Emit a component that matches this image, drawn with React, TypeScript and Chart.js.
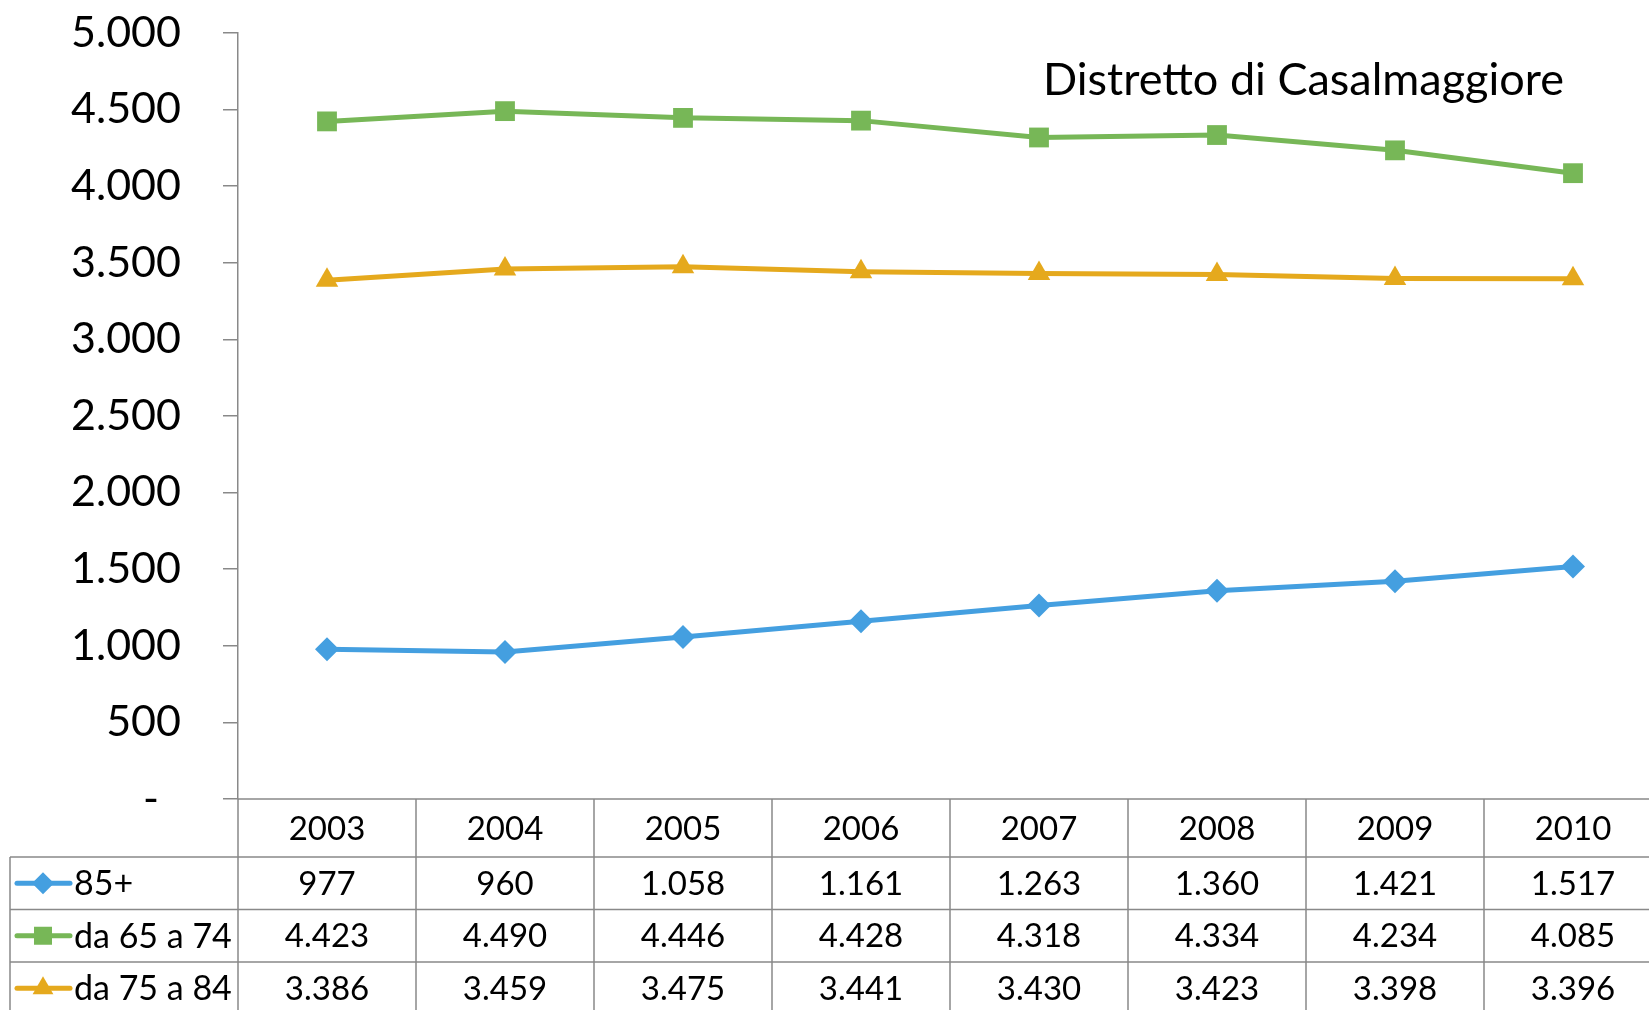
import React, { useEffect, useRef } from 'react';
import { Chart, registerables } from 'chart.js';

Chart.register(...registerables);

const years = ['2003', '2004', '2005', '2006', '2007', '2008', '2009', '2010'];
const over85 = [977, 960, 1058, 1161, 1263, 1360, 1421, 1517];
const age65to74 = [4423, 4490, 4446, 4428, 4318, 4334, 4234, 4085];
const age75to84 = [3386, 3459, 3475, 3441, 3430, 3423, 3398, 3396];
const seriesNames = ['85+', 'da 65 a 74', 'da 75 a 84'];
const titleText = 'Distretto di Casalmaggiore';

const BLUE = '#449FE0';
const GREEN = '#77B757';
const ORANGE = '#E5A91D';
const GRAY = '#898989';
const FONT = 'Lato, "Open Sans", sans-serif';

const fmt = (v: number) => String(v).replace(/\B(?=(\d{3})+(?!\d))/g, '.');

function drawMarker(ctx: CanvasRenderingContext2D, style: string, x: number, y: number, color: string) {
  ctx.save();
  ctx.fillStyle = color;
  ctx.beginPath();
  if (style === 'rectRot') {
    const r = 11;
    ctx.moveTo(x - r, y);
    ctx.lineTo(x, y - r);
    ctx.lineTo(x + r, y);
    ctx.lineTo(x, y + r);
  } else if (style === 'rect') {
    const s = 9;
    ctx.rect(x - s, y - s, 2 * s, 2 * s);
  } else {
    const r = 12;
    ctx.moveTo(x, y - r);
    ctx.lineTo(x + r * 0.866, y + r * 0.5);
    ctx.lineTo(x - r * 0.866, y + r * 0.5);
  }
  ctx.closePath();
  ctx.fill();
  ctx.restore();
}

const tablePlugin = {
  id: 'dataTable',
  afterDraw(chart: any) {
    const ctx: CanvasRenderingContext2D = chart.ctx;
    const area = chart.chartArea;
    const xs = chart.scales.x;
    const n = years.length;
    const colW = (area.right - area.left) / n;
    const right = chart.width;
    const bottom = chart.height + 20;
    const headerH = 58;
    const rowH = 52.5;
    const tableLeft = 10;
    const rowTops = [area.bottom, area.bottom + headerH, area.bottom + headerH + rowH, area.bottom + headerH + 2 * rowH, area.bottom + headerH + 3 * rowH];

    ctx.save();
    ctx.strokeStyle = GRAY;
    ctx.lineWidth = 1.5;
    ctx.beginPath();
    ctx.moveTo(area.left, rowTops[0]);
    ctx.lineTo(right, rowTops[0]);
    for (let i = 1; i < rowTops.length; i++) {
      ctx.moveTo(tableLeft, rowTops[i]);
      ctx.lineTo(right, rowTops[i]);
    }
    for (let i = 0; i <= n; i++) {
      const x = area.left + i * colW;
      ctx.moveTo(x, rowTops[0]);
      ctx.lineTo(x, bottom);
    }
    ctx.moveTo(tableLeft, rowTops[1]);
    ctx.lineTo(tableLeft, bottom);
    ctx.stroke();

    ctx.fillStyle = '#000';
    ctx.font = `33px ${FONT}`;
    ctx.textAlign = 'center';
    ctx.textBaseline = 'middle';
    years.forEach((y, i) => {
      const cx = xs.getPixelForValue(i);
      ctx.fillText(y, cx, (rowTops[0] + rowTops[1]) / 2 + 1);
    });
    const allSeries = [over85, age65to74, age75to84];
    const colors = [BLUE, GREEN, ORANGE];
    const styles = ['rectRot', 'rect', 'triangle'];
    allSeries.forEach((vals, r) => {
      const cy = (rowTops[r + 1] + rowTops[r + 2]) / 2;
      vals.forEach((v, i) => {
        const cx = xs.getPixelForValue(i);
        ctx.fillText(fmt(v), cx, cy + 1);
      });
      ctx.save();
      ctx.strokeStyle = colors[r];
      ctx.lineWidth = 5;
      ctx.lineCap = 'round';
      ctx.beginPath();
      ctx.moveTo(17, cy);
      ctx.lineTo(70, cy);
      ctx.stroke();
      ctx.restore();
      drawMarker(ctx, styles[r], 43, cy, colors[r]);
      ctx.save();
      ctx.textAlign = 'left';
      ctx.font = `34px ${FONT}`;
      ctx.fillText(seriesNames[r], 74, cy + 1);
      ctx.restore();
    });

    ctx.font = `45px ${FONT}`;
    ctx.textAlign = 'left';
    ctx.textBaseline = 'alphabetic';
    ctx.fillText(titleText, area.left + 805, 95);
    ctx.restore();
  },
};

export default function App() {
  const ref = useRef<HTMLCanvasElement | null>(null);
  useEffect(() => {
    if (!ref.current) return;
    const mk = (label: string, data: number[], color: string, style: string, radius: number) => ({
      label,
      data,
      borderColor: color,
      backgroundColor: color,
      borderWidth: 5,
      pointStyle: style,
      pointRadius: radius,
      pointHoverRadius: radius,
      pointBackgroundColor: color,
      pointBorderColor: color,
      pointBorderWidth: 0,
      tension: 0,
      clip: false as any,
    });
    const chart = new Chart(ref.current, {
      type: 'line',
      data: {
        labels: years,
        datasets: [
          mk(seriesNames[0], over85, BLUE, 'rectRot', 12),
          mk(seriesNames[1], age65to74, GREEN, 'rect', 14),
          mk(seriesNames[2], age75to84, ORANGE, 'triangle', 13),
        ],
      },
      options: {
        responsive: false,
        animation: false,
        layout: { autoPadding: false, padding: { top: 33, bottom: 211, left: 0, right: 2 } },
        plugins: { legend: { display: false }, tooltip: { enabled: false }, title: { display: false } },
        scales: {
          x: { display: false, offset: true },
          y: {
            min: 0,
            max: 5000,
            afterFit: (s: any) => {
              s.width = 238;
              s.paddingTop = 0;
              s.paddingBottom = 0;
            },
            ticks: {
              stepSize: 500,
              color: '#000',
              padding: 42,
              font: { family: FONT, size: 43 },
              callback: (v: any) => (Number(v) === 0 ? '-  ' : fmt(Number(v))),
            },
            grid: { drawOnChartArea: false, drawTicks: true, tickLength: 15, color: GRAY, lineWidth: 1.5 },
            border: { color: GRAY, width: 1.5 },
          },
        },
      },
      plugins: [tablePlugin],
    });
    return () => chart.destroy();
  }, []);
  return (
    <div style={{ position: 'fixed', left: 0, top: 0, width: 1649, height: 1010, overflow: 'hidden', background: '#fff' }}>
      <div style={{ width: 1664, height: 1010 }}>
        <canvas ref={ref} width={1664} height={1010} style={{ display: 'block', width: 1664, height: 1010 }} />
      </div>
    </div>
  );
}
